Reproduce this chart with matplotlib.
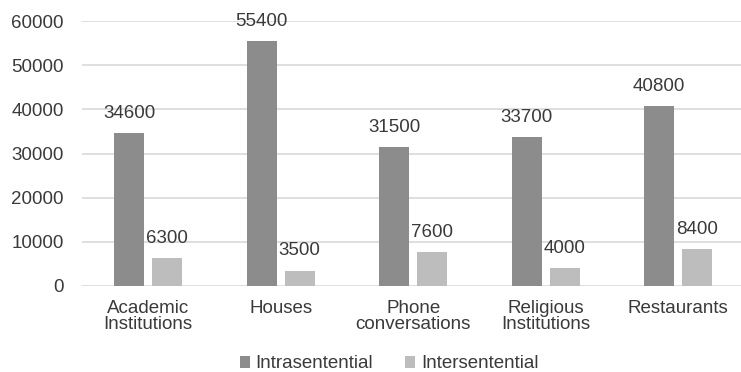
import numpy as np
import matplotlib.pyplot as plt

# Количество переключений кодов по местам общения
categories = ["Academic\nInstitutions", "Houses", "Phone\nconversations",
              "Religious\nInstitutions", "Restaurants"]
intra = [34600, 55400, 31500, 33700, 40800]
inter = [6300, 3500, 7600, 4000, 8400]

plt.rcParams['font.family'] = ['Liberation Sans', 'DejaVu Sans']
text_color = '#3a3a3a'
fs = 13.5

fig = plt.figure(figsize=(7.41, 3.72), dpi=100)
ax = fig.add_axes([82 / 741, 1 - 286 / 372, 662.5 / 741, 265 / 372])

x = np.arange(len(categories))
w = 0.226
off = 0.143
b1 = ax.bar(x - off, intra, w, color='#8c8c8c', label='Intrasentential', zorder=3)
b2 = ax.bar(x + off, inter, w, color='#bdbdbd', label='Intersentential', zorder=3)

# подписи значений над столбцами
for bars, vals in [(b1, intra), (b2, inter)]:
    for r, v in zip(bars, vals):
        ax.annotate(str(v), (r.get_x() + r.get_width() / 2, v),
                    xytext=(0, 8), textcoords='offset points',
                    ha='center', va='bottom', fontsize=fs, color=text_color)

ax.set_xlim(-0.5, len(categories) - 0.5)
ax.set_ylim(0, 60000)
ax.set_yticks(np.arange(0, 60001, 10000))
ax.set_xticks(x)
ax.set_xticklabels(categories, linespacing=0.95)
ax.tick_params(axis='both', length=0, labelsize=fs, colors=text_color)
ax.tick_params(axis='y', pad=13)
ax.tick_params(axis='x', pad=10)
ax.grid(axis='y', color='#d9d9d9', linewidth=1.2, zorder=0)
for s in ax.spines.values():
    s.set_visible(False)

fig.legend(handles=[b1, b2], loc='center', bbox_to_anchor=(389 / 741, 1 - 364 / 372),
           ncol=2, frameon=False, fontsize=fs, handlelength=0.55, handleheight=0.55,
           handletextpad=0.3, columnspacing=1.7, labelcolor=text_color)

plt.savefig('out.png', dpi=100)
